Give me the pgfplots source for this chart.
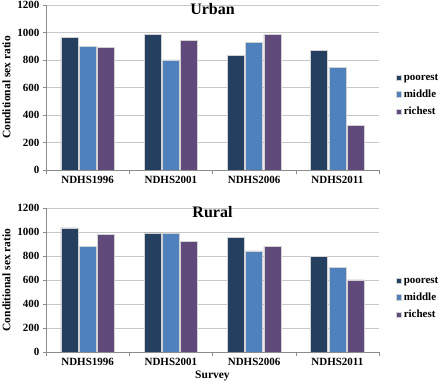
\documentclass[border=0pt]{standalone}
\usepackage{pgfplots}
\pgfplotsset{compat=1.18}
\usepackage{fontspec}
\setmainfont{Liberation Serif}
\definecolor{cpoor}{HTML}{243F60}
\definecolor{cmid}{HTML}{4F81BD}
\definecolor{crich}{HTML}{604A7B}
\definecolor{gridc}{HTML}{C8C8C8}
\definecolor{axc}{HTML}{8C8C8C}
\pgfplotsset{mystyle/.style={
 scale only axis, width=333pt,
 ybar=1.3pt, bar width=17pt,
 ymin=0, ymax=1200, ytick={0,200,...,1200},
 xmin=-0.5, xmax=3.5, xtick={0,1,2,3},
 xticklabels={NDHS1996,NDHS2001,NDHS2006,NDHS2011},
 minor xtick={-0.5,0.5,1.5,2.5,3.5},
 axis x line*=bottom, axis y line*=left,
 axis line style={axc, -},
 ymajorgrids, grid style={gridc, line width=0.6pt},
 tick align=outside,
 major x tick style={draw=none},
 minor x tick style={axc},
 major y tick style={axc},
 major tick length=3pt, minor tick length=4pt,
 tick label style={font=\fontsize{11}{13}\selectfont\bfseries},
 /pgf/number format/assume math mode=true,
 /pgf/number format/1000 sep={},
 ylabel={Conditional sex ratio},
 ylabel style={font=\fontsize{11.5}{13}\selectfont\bfseries},
 title style={font=\fontsize{16}{18}\selectfont\bfseries, at={(0.5,1)}, anchor=north, yshift=-1pt},
 legend style={draw=none, fill=none, font=\fontsize{11}{13}\selectfont\bfseries, anchor=west, row sep=4pt, cells={anchor=west}},
 legend image code/.code={\fill[##1] (0pt,-2.6pt) rectangle (5.2pt,2.6pt);},
}}
\begin{document}
\begin{tikzpicture}
\useasboundingbox (0,0) rectangle (440pt,-387pt);
\begin{axis}[mystyle, at={(46pt,-170pt)}, anchor=south west, height=165pt,
  title={Urban}, legend style={at={(1.042,0.455)}}]
\addplot[fill=cpoor, draw=gray!35] coordinates {(0,965) (1,989) (2,834) (3,870)};
\addplot[fill=cmid, draw=gray!35] coordinates {(0,897) (1,800) (2,926) (3,749)};
\addplot[fill=crich, draw=gray!35] coordinates {(0,892) (1,943) (2,989) (3,325)};
\legend{poorest,middle,richest}
\end{axis}
\begin{axis}[mystyle, at={(46pt,-352pt)}, anchor=south west, height=144pt,
  title={Rural}, legend style={at={(1.042,0.375)}},
  xlabel={Survey}, xlabel style={font=\fontsize{11.5}{13}\selectfont\bfseries, yshift=2pt}]
\addplot[fill=cpoor, draw=gray!35] coordinates {(0,1034) (1,992) (2,953) (3,798)};
\addplot[fill=cmid, draw=gray!35] coordinates {(0,881) (1,989) (2,843) (3,704)};
\addplot[fill=crich, draw=gray!35] coordinates {(0,978) (1,920) (2,881) (3,601)};
\legend{poorest,middle,richest}
\end{axis}
\end{tikzpicture}
\end{document}
